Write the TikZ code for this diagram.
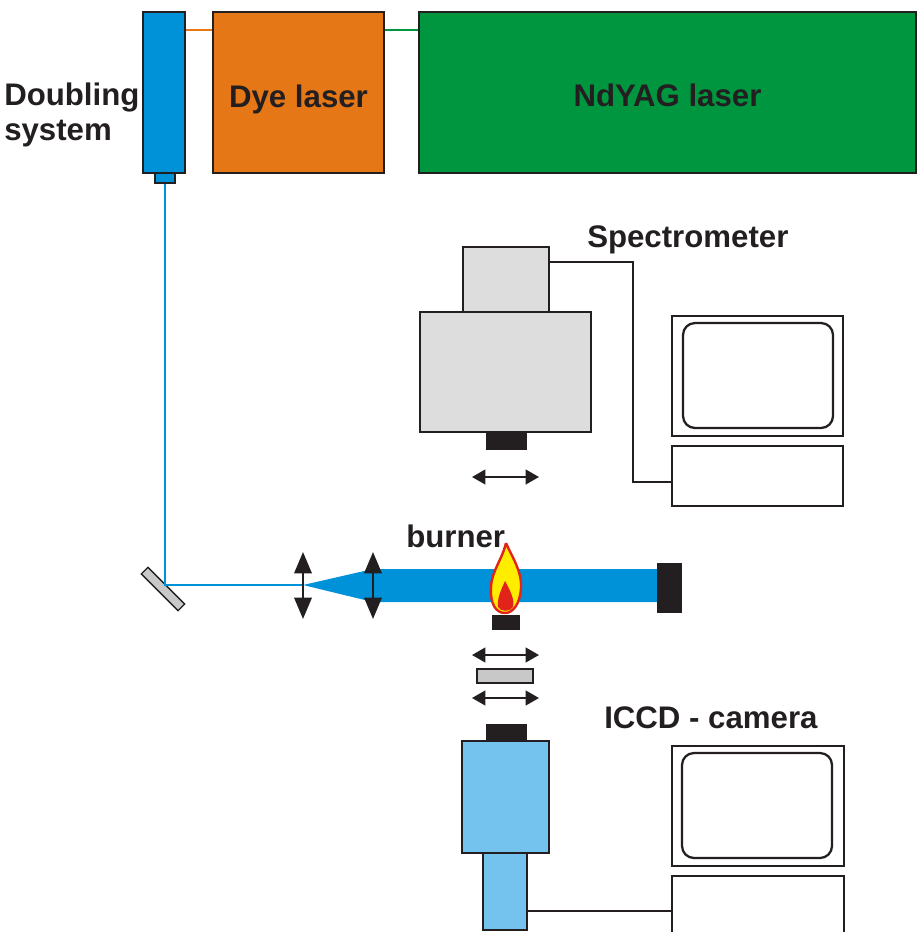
\documentclass[tikz,border=0pt]{standalone}
\usepackage{fontspec}
\setmainfont{Liberation Sans}
\usetikzlibrary{arrows.meta,fit}
\definecolor{laserblue}{RGB}{0,146,216}
\definecolor{dyeorange}{RGB}{229,119,23}
\definecolor{yaggreen}{RGB}{0,150,64}
\definecolor{camblue}{RGB}{116,194,238}
\definecolor{specgrey}{RGB}{221,221,221}
\definecolor{filtergrey}{RGB}{200,200,200}
\definecolor{ink}{RGB}{35,31,32}
\definecolor{flameyellow}{RGB}{255,237,0}
\definecolor{flamered}{RGB}{226,35,26}
\tikzset{
  box/.style={draw=ink, line width=1.7pt, inner sep=0pt},
  blk/.style={fill=ink, draw=ink, line width=0.5pt, inner sep=0pt},
  lbl/.style={font=\bfseries\fontsize{23.4}{26.25}\selectfont, text=ink, inner sep=0pt},
  wire/.style={draw=ink, line width=1.9pt},
  beam/.style={draw=laserblue, line width=1.6pt},
  lensarrow/.style={draw=ink, line width=1.8pt,
    {Triangle[length=16pt,width=13pt]}-{Triangle[length=16pt,width=13pt]}},
  shiftarrow/.style={draw=ink, line width=1.6pt,
    {Triangle[length=10pt,width=11pt]}-{Triangle[length=10pt,width=11pt]}},
  screen/.style={draw=ink, line width=1.7pt, rounded corners=9pt},
}
\begin{document}
\begin{tikzpicture}[x=0.75pt,y=-0.75pt]
\useasboundingbox (0,0) rectangle (920,932);
\clip (0,0) rectangle (920,932);

% laser chain
\node[box, fill=laserblue, fit={(143,12)(185,173)}] (dbl) {};
\node[box, fill=laserblue, line width=1.3pt, fit={(155,173)(175,183)}] (port) {};
\node[box, fill=dyeorange, fit={(213,12)(384,173)}] (dye) {};
\node[box, fill=yaggreen, fit={(419,12)(916,173)}] (yag) {};
\node[lbl, anchor=base] at (dye.center |- 0,107) {Dye laser};
\node[lbl, anchor=base] at (yag.center |- 0,106) {NdYAG laser};
\node[lbl, anchor=base west] at (4,105) {Doubling};
\node[lbl, anchor=base west] at (4,140) {system};
\draw[draw=dyeorange, line width=2pt] (dbl.east |- 0,30) -- (dye.west |- 0,30);
\draw[draw=yaggreen, line width=2pt] (dye.east |- 0,30) -- (yag.west |- 0,30);

% turning mirror
\node[box, fill=filtergrey, line width=1pt, minimum width=39pt, minimum height=7pt,
      rotate=-45] (mirror) at (163,589) {};

% beam path
\coordinate (turn) at (165,585);
\coordinate (lensA) at (303,585);
\coordinate (lensB) at (373,585);
\draw[beam] (port.south -| turn) -- (turn) -- (lensA);
\fill[laserblue] (lensA) -- (373,569) -- (657,569) -- (657,602) -- (373,602) -- cycle;
\draw[lensarrow] (303,552) -- (303,619);
\draw[lensarrow] (373,552) -- (373,619);
\node[blk, fit={(657,563)(681,612)}] (dump) {};

% burner
\node[lbl, anchor=base west] (burnerlbl) at (406,547) {burner};
\node[blk, fit={(492,615)(519,629)}] (burner) {};
\draw[draw=flamered, fill=flameyellow, line width=1.8pt]
  (506,543) .. controls (512,557) and (522,571) .. (521,588)
  .. controls (520,604) and (513,613) .. (505,613)
  .. controls (496,613) and (490,604) .. (491,588)
  .. controls (491,572) and (502,560) .. (506,543);
\fill[flamered]
  (505,581) .. controls (510,590) and (515,600) .. (513,607)
  .. controls (511,612) and (500,612) .. (498,607)
  .. controls (497,598) and (501,590) .. (505,581);

% spectrometer
\node[box, fill=specgrey, fit={(463,247)(549,312)}] (spectop) {};
\node[box, fill=specgrey, fit={(420,312)(591,432)}] (spec) {};
\node[blk, fit={(486,432)(526,449)}] (specslit) {};
\draw[shiftarrow] (472,477) -- (539,477);
\node[lbl, anchor=base west] at (587,247) {Spectrometer};

% computer of the spectrometer
\node[box, fill=white, fit={(672,316)(843,436)}] (mon1) {};
\draw[screen] (683,323) rectangle (833,428);
\node[box, fill=white, fit={(672,446)(843,506)}] (pc1) {};
\coordinate (bend1) at (633,262);
\draw[wire] (spectop.east |- bend1) -- (bend1) -- (bend1 |- 0,482) -- (pc1.west |- 0,482);

% collection optics
\draw[shiftarrow] (472,655) -- (539,655);
\node[box, fill=filtergrey, line width=1pt, fit={(477,669)(533,683)}] (filter) {};
\draw[shiftarrow] (472,698) -- (539,698);

% ICCD camera
\node[blk, fit={(486,724)(526,741)}] (camlens) {};
\node[box, fill=camblue, fit={(462,741)(549,853)}] (cam) {};
\node[box, fill=camblue, fit={(483,853)(527,930)}] (camtail) {};
\node[lbl, anchor=base west] at (604,728) {ICCD - camera};

% computer of the camera
\node[box, fill=white, fit={(672,746)(844,866)}] (mon2) {};
\draw[screen] (682,753) rectangle (832,858);
\node[box, fill=white, fit={(672,876)(844,950)}] (pc2) {};
\draw[wire] (camtail.east |- 0,911) -- (pc2.west |- 0,911);
\end{tikzpicture}
\end{document}
